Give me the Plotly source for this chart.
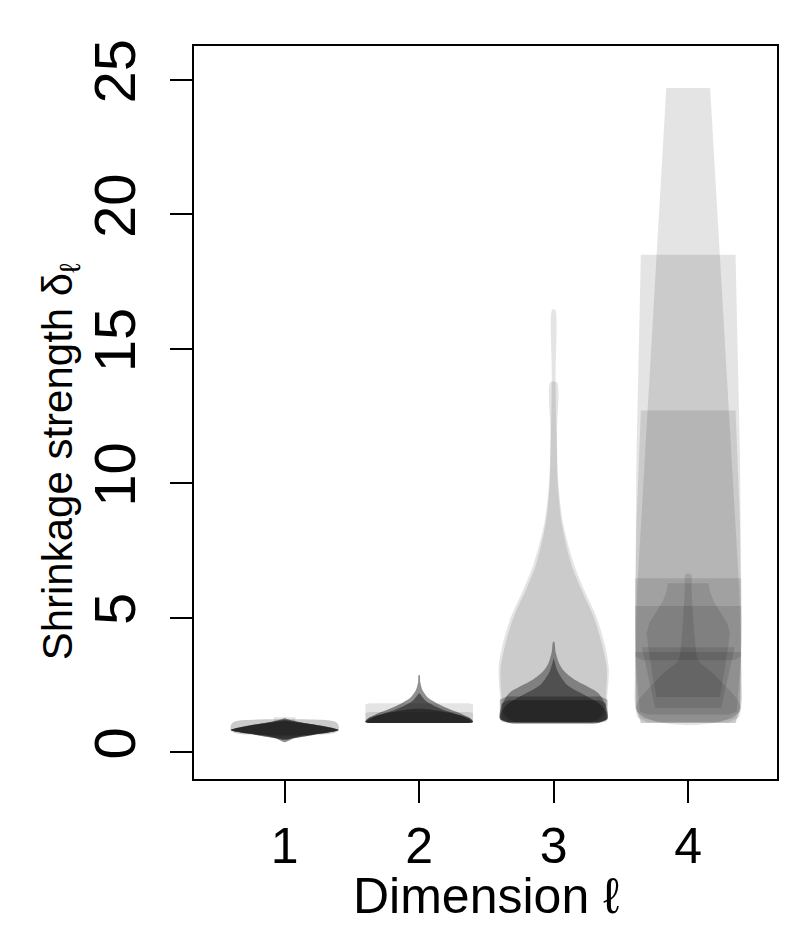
import plotly.graph_objects as go

# violin outlines: y levels and half widths (in x units)
dims = [1, 2, 3, 4]
y_ticks = [0, 5, 10, 15, 20, 25]

# dimension 1
d1_rect_y = [1.10, 1.30]
d1_rect_w = [0.08, 0.08]
d1_band_y = [0.62, 0.70, 0.80, 1.00, 1.12, 1.19]
d1_band_w = [0.10, 0.36, 0.40, 0.40, 0.38, 0.30]
d1_star_y = [0.37, 0.50, 0.65, 0.82, 1.00, 1.15, 1.26]
d1_star_w = [0.00, 0.06, 0.22, 0.40, 0.24, 0.08, 0.00]
d1_lens_y = [0.45, 0.60, 0.72, 0.82, 0.95, 1.08, 1.20]
d1_lens_w = [0.00, 0.12, 0.32, 0.40, 0.30, 0.14, 0.00]
d1_core_y = [0.50, 0.65, 0.82, 1.00, 1.15]
d1_core_w = [0.00, 0.22, 0.40, 0.26, 0.00]

# dimension 2
d2_box_y = [1.08, 1.12, 1.78, 1.82]
d2_box_w = [0.37, 0.40, 0.40, 0.37]
d2_low_y = [1.08, 1.12, 1.45, 1.49]
d2_low_w = [0.37, 0.40, 0.40, 0.37]
d2_spike_y = [1.08, 1.12, 1.25, 1.45, 1.65, 1.82, 2.00, 2.30, 2.60, 2.86]
d2_spike_w = [0.37, 0.40, 0.38, 0.30, 0.20, 0.13, 0.07, 0.025, 0.008, 0.004]
d2_mid_y = [1.08, 1.12, 1.30, 1.50, 1.70, 1.90, 2.20]
d2_mid_w = [0.37, 0.40, 0.34, 0.22, 0.12, 0.05, 0.00]
d2_flat_y = [1.08, 1.12, 1.25, 1.40, 1.60]
d2_flat_w = [0.37, 0.40, 0.38, 0.28, 0.05]

# dimension 3
d3_tall_y = [1.10, 1.30, 1.70, 2.20, 3.10, 4.00, 5.00, 6.00, 7.00, 8.50, 10.0, 12.0, 14.0, 16.45]
d3_tall_w = [0.28, 0.36, 0.39, 0.40, 0.41, 0.38, 0.32, 0.23, 0.15, 0.07, 0.035, 0.02, 0.014, 0.011]
d3_next_y = [1.10, 1.30, 1.70, 2.20, 3.10, 4.00, 5.00, 6.00, 7.00, 8.50, 10.0, 12.0, 13.75]
d3_next_w = [0.27, 0.35, 0.38, 0.39, 0.395, 0.36, 0.30, 0.21, 0.13, 0.06, 0.03, 0.025, 0.025]
d3_spike_y = [1.10, 1.25, 1.50, 1.90, 2.20, 2.68, 3.00, 3.30, 3.70, 4.10]
d3_spike_w = [0.33, 0.40, 0.40, 0.37, 0.33, 0.16, 0.08, 0.04, 0.015, 0.004]
d3_mid_y = [1.10, 1.25, 1.50, 1.80, 2.10, 2.50, 3.00, 3.50]
d3_mid_w = [0.33, 0.40, 0.39, 0.34, 0.24, 0.10, 0.03, 0.00]
d3_band_y = [1.10, 1.20, 1.95, 2.07]
d3_band_w = [0.34, 0.40, 0.40, 0.35]
d3_base_y = [1.05, 1.15, 1.80, 1.93]
d3_base_w = [0.30, 0.39, 0.39, 0.34]

# dimension 4
d4_top_y = [1.12, 1.25, 1.50, 2.00, 6.00, 24.7]
d4_top_w = [0.22, 0.33, 0.385, 0.40, 0.38, 0.163]
d4_high_y = [1.08, 1.60, 5.00, 11.0, 18.5]
d4_high_w = [0.352, 0.385, 0.395, 0.385, 0.352]
d4_mid_y = [1.08, 1.60, 4.50, 8.50, 12.7]
d4_mid_w = [0.352, 0.385, 0.395, 0.385, 0.352]
d4_cap_y = [3.42, 3.55, 4.00, 6.47]
d4_cap_w = [0.34, 0.39, 0.395, 0.395]
d4_block_y = [1.10, 1.30, 1.70, 3.50, 5.43]
d4_block_w = [0.30, 0.38, 0.395, 0.395, 0.395]
d4_trap_y = [1.64, 3.90]
d4_trap_w = [0.245, 0.345]
d4_slab_y = [1.40, 1.50, 3.72]
d4_slab_w = [0.30, 0.36, 0.395]
d4_flask_y = [2.05, 3.00, 4.00, 4.43, 4.80, 5.20, 5.60, 6.00, 6.28]
d4_flask_w = [0.237, 0.27, 0.30, 0.31, 0.29, 0.24, 0.19, 0.16, 0.152]
d4_spike_y = [1.00, 1.10, 1.25, 1.45, 1.67, 2.00, 2.50, 3.00, 3.42, 4.20, 5.00, 6.00, 6.62]
d4_spike_w = [0.00, 0.205, 0.304, 0.368, 0.39, 0.36, 0.27, 0.17, 0.074, 0.05, 0.037, 0.025, 0.02]

# (dimension, levels, half widths, runs stacked, smooth outline)
shapes = [
    (1, d1_rect_y, d1_rect_w, 1, False),
    (1, d1_band_y, d1_band_w, 2, True),
    (1, d1_star_y, d1_star_w, 5, True),
    (1, d1_lens_y, d1_lens_w, 5, True),
    (1, d1_core_y, d1_core_w, 4, True),
    (2, d2_box_y, d2_box_w, 1, False),
    (2, d2_low_y, d2_low_w, 1, False),
    (2, d2_spike_y, d2_spike_w, 5, True),
    (2, d2_mid_y, d2_mid_w, 5, True),
    (2, d2_flat_y, d2_flat_w, 4, True),
    (3, d3_tall_y, d3_tall_w, 1, True),
    (3, d3_next_y, d3_next_w, 1, True),
    (3, d3_spike_y, d3_spike_w, 4, True),
    (3, d3_mid_y, d3_mid_w, 4, True),
    (3, d3_band_y, d3_band_w, 3, False),
    (3, d3_base_y, d3_base_w, 3, False),
    (4, d4_top_y, d4_top_w, 1, False),
    (4, d4_high_y, d4_high_w, 1, False),
    (4, d4_mid_y, d4_mid_w, 1, False),
    (4, d4_cap_y, d4_cap_w, 1, False),
    (4, d4_block_y, d4_block_w, 1, False),
    (4, d4_trap_y, d4_trap_w, 1, False),
    (4, d4_slab_y, d4_slab_w, 1, False),
    (4, d4_flask_y, d4_flask_w, 1, False),
    (4, d4_spike_y, d4_spike_w, 1, True),
]

fig = go.Figure()

for center, ys, ws, runs, smooth in shapes:
    # right side going up, left side coming back down
    xs = [center + w for w in ws] + [center - w for w in reversed(ws)]
    yy = list(ys) + list(reversed(ys))
    for _ in range(runs):
        fig.add_trace(go.Scatter(
            x=xs, y=yy, mode="lines", fill="toself",
            fillcolor="rgba(0,0,0,0.107)",
            line=dict(width=0, shape="spline" if smooth else "linear", smoothing=0.8),
            hoverinfo="skip", showlegend=False))

family = "Liberation Sans, Arial, sans-serif"
xtick_font = dict(family=family, size=50, color="black")
ytick_font = dict(family=family, size=58, color="black")
xlab_font = dict(family=family, size=50, color="black")
ylab_font = dict(family=family, size=42, color="black")

# page body adds an 8px margin all round; keep the figure small enough to avoid scrollbars
fig.update_layout(
    width=773, height=935,
    margin=dict(l=186, r=2, t=38, b=164),
    paper_bgcolor="white", plot_bgcolor="white",
    showlegend=False,
)

fig.update_xaxes(
    range=[0.326, 4.66], tickvals=dims, ticktext=[str(d) for d in dims],
    tickfont=xtick_font,
    ticks="outside", ticklen=22, tickwidth=2, tickcolor="black",
    showline=True, linewidth=2, linecolor="black", mirror=True,
    showgrid=False, zeroline=False, ticklabelstandoff=0,
)
fig.update_yaxes(
    range=[-1.0, 26.26], tickvals=y_ticks, ticktext=[str(t) for t in y_ticks],
    tickangle=-90, tickfont=ytick_font,
    ticks="outside", ticklen=22, tickwidth=2, tickcolor="black",
    showline=True, linewidth=2, linecolor="black", mirror=True,
    showgrid=False, zeroline=False, ticklabelstandoff=12,
)

# axis titles as annotations so they can sit where R put them
fig.add_annotation(text="Dimension ℓ", xref="paper", yref="paper",
                   x=0.5, y=-0.160, xanchor="center", yanchor="middle",
                   showarrow=False, font=xlab_font)
fig.add_annotation(text="Shrinkage strength δ<sub>ℓ</sub>", xref="paper", yref="paper",
                   x=-0.229, y=0.434, xanchor="center", yanchor="middle",
                   textangle=-90, showarrow=False, font=ylab_font)

fig.write_html("out.html")
